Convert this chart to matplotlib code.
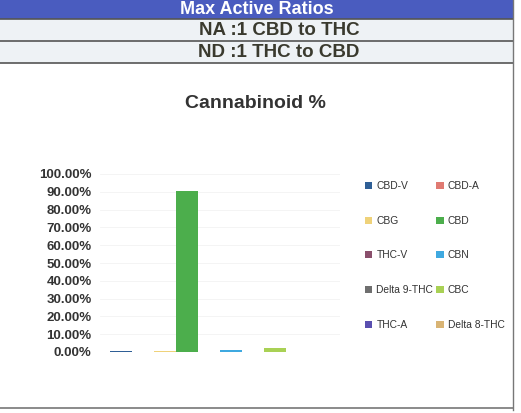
import matplotlib.pyplot as plt
from matplotlib.patches import Rectangle
from matplotlib.lines import Line2D
from matplotlib.ticker import FuncFormatter

plt.rcParams["font.family"] = ["Liberation Sans", "DejaVu Sans"]

W, H = 521, 413

# data
cannabinoids = ["CBD-V", "CBD-A", "CBG", "CBD", "THC-V",
                "CBN", "Delta 9-THC", "CBC", "THC-A", "Delta 8-THC"]
percent = [0.8, 0.0, 0.3, 90.5, 0.0, 0.9, 0.0, 2.5, 0.0, 0.0]
colors = ["#2f5f96", "#e07a72", "#efd27a", "#4cae4c", "#8a4f6c",
          "#3fa9e0", "#6f6f6f", "#a9d155", "#5a4fb0", "#d9b474"]
yticks = [0, 10, 20, 30, 40, 50, 60, 70, 80, 90, 100]

header_rows = ["Max Active Ratios", "NA :1 CBD to THC", "ND :1 THC to CBD"]

fig = plt.figure(figsize=(W / 100, H / 100), dpi=100)
fig.patch.set_facecolor("white")


def fy(py):
    return 1 - py / H


def fx(px):
    return px / W


# header table
row_edges = [0, 19, 41, 63]
row_centres = [257, 279, 279]
row_sizes = [13, 13.5, 13.5]
for i, label in enumerate(header_rows):
    top, bot = row_edges[i], row_edges[i + 1]
    face = "#4a5cbf" if i == 0 else "#eef2f5"
    fig.patches.append(Rectangle((0, fy(bot)), fx(513), fy(top) - fy(bot),
                                 transform=fig.transFigure, facecolor=face,
                                 edgecolor="none", zorder=0))
    fig.lines.append(Line2D([0, fx(513)], [fy(bot), fy(bot)], transform=fig.transFigure,
                            color="#555555", lw=1.2))
    fig.text(fx(row_centres[i]), fy((top + bot) / 2 + 0.5), label, ha="center", va="center",
             fontsize=row_sizes[i], fontweight="bold",
             color="white" if i == 0 else "#3a3a2e")

# outer borders
fig.lines.append(Line2D([fx(513), fx(513)], [fy(0), fy(410)], transform=fig.transFigure,
                        color="#777777", lw=1.0))
fig.lines.append(Line2D([0, fx(513)], [fy(408), fy(408)], transform=fig.transFigure,
                        color="#777777", lw=1.2))

fig.text(fx(255), fy(103), "Cannabinoid %", ha="center", va="center",
         fontsize=14, fontweight="bold", color="#333333")

ax = fig.add_axes([fx(100), fy(352), fx(340) - fx(100), fy(174) - fy(352)])
ax.set_facecolor("none")
positions = list(range(len(cannabinoids)))
bars = ax.bar(positions, percent, width=1.0, color=colors, edgecolor="none")
ax.set_xlim(-0.95, 9.95)
ax.set_ylim(0, 100)
ax.set_yticks(yticks)
ax.yaxis.set_major_formatter(FuncFormatter(lambda v, _: f"{v:.2f}%"))
ax.set_xticks([])
for s in ax.spines.values():
    s.set_visible(False)
ax.tick_params(axis="y", length=0, pad=6, labelsize=9.5, labelcolor="#333333")
for lab in ax.get_yticklabels():
    lab.set_fontweight("bold")
ax.grid(axis="y", color="#f3f3f3", lw=0.6)
ax.set_axisbelow(True)

# legend, row-major order in two columns
handles = [Rectangle((0, 0), 1, 1, facecolor=c, edgecolor="none") for c in colors]
order = [0, 2, 4, 6, 8, 1, 3, 5, 7, 9]
leg = fig.legend([handles[i] for i in order], [cannabinoids[i] for i in order],
                 ncol=2, loc="upper left", bbox_to_anchor=(fx(361), fy(177)),
                 frameon=False, fontsize=7.4, handlelength=0.7, handleheight=0.7,
                 handletextpad=0.4, columnspacing=0.3, labelspacing=2.4,
                 borderaxespad=0)
for t in leg.get_texts():
    t.set_color("#333333")

fig.savefig("out.png", dpi=100, facecolor="white")
